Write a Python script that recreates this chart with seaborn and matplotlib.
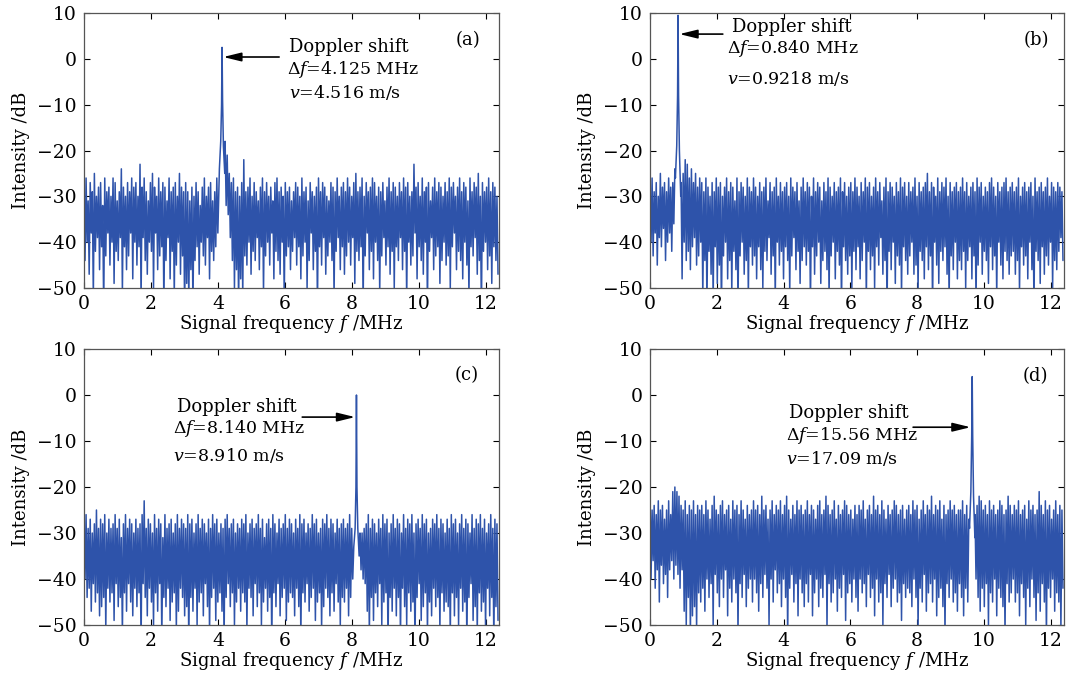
import numpy as np
import pandas as pd
import matplotlib
matplotlib.use("Agg")
import matplotlib.pyplot as plt
import seaborn as sns

# ---- measured beat spectra (dB) ----
# Each spectrum is stored as a per-bin envelope: the highest and the lowest
# level found in each of 200 equal frequency bins between 0 and F_MAX MHz.
F_MAX = 12.4

upper_a = [
    -28, -26, -31, -27, -29, -25, -30, -28, -27, -32, -26, -29, -28, -30, -26, -27, -31, -29, -24, -28, -30, -27, -29, -26, -28,
    -27, -30, -23, -28, -26, -29, -31, -27, -25, -28, -30, -26, -29, -27, -28, -31, -26, -29, -28, -27, -30, -25, -28, -29, -27,
    -29, -31, -28, -30, -27, -29, -32, -28, -26, -30, -28, -27, -31, -29, -26, -28, -22, -20, -18, -21, -25, -27, -26, -29, -28,
    -30, -27, -22, -29, -28, -26, -30, -27, -29, -31, -28, -26, -29, -27, -30, -28, -31, -27, -26, -29, -28, -30, -27, -29, -28,
    -31, -29, -27, -28, -30, -26, -29, -28, -31, -27, -29, -30, -28, -26, -29, -27, -28, -30, -31, -27, -28, -29, -26, -30, -28,
    -27, -29, -26, -28, -30, -27, -25, -29, -28, -26, -30, -27, -29, -28, -26, -27, -30, -28, -29, -27, -31, -28, -26, -29, -27,
    -28, -30, -27, -29, -26, -28, -27, -30, -29, -23, -28, -27, -30, -26, -29, -28, -27, -31, -28, -26, -29, -27, -28, -30, -27,
    -29, -26, -28, -27, -30, -28, -26, -29, -27, -28, -31, -26, -29, -27, -28, -25, -30, -27, -29, -28, -26, -29, -27, -28, -30,
]
lower_a = [
    -44, -40, -47, -38, -52, -42, -39, -46, -41, -55, -43, -38, -45, -40, -49, -42, -44, -39, -51, -41, -46, -43, -38, -48, -40,
    -45, -41, -53, -39, -44, -47, -40, -42, -50, -38, -46, -43, -41, -55, -44, -39, -48, -42, -52, -45, -40, -47, -43, -56, -49,
    -53, -46, -55, -44, -41, -47, -40, -43, -45, -39, -48, -42, -44, -41, -38, -35, -33, -30, -32, -34, -39, -44, -50, -46, -54,
    -48, -52, -43, -45, -40, -47, -42, -44, -39, -46, -41, -51, -43, -40, -45, -38, -48, -42, -44, -47, -40, -53, -43, -41, -46,
    -42, -39, -45, -41, -48, -43, -40, -50, -44, -38, -46, -42, -55, -41, -45, -39, -47, -43, -40, -44, -52, -42, -39, -46, -41,
    -47, -43, -40, -45, -39, -49, -42, -44, -41, -54, -43, -38, -46, -42, -48, -40, -44, -51, -43, -39, -45, -41, -47, -42, -50,
    -41, -44, -39, -46, -42, -53, -40, -45, -43, -38, -48, -41, -44, -47, -40, -55, -42, -39, -46, -43, -41, -49, -44, -40, -45,
    -43, -50, -41, -38, -46, -42, -44, -48, -40, -45, -52, -41, -43, -39, -47, -44, -56, -42, -40, -46, -43, -49, -41, -44, -47,
]

upper_b = [
    -28, -26, -29, -27, -30, -25, -28, -27, -29, -26, -28, -27, -24, -20, -24, -27, -25, -22, -23, -26, -24, -27, -25, -28, -26,
    -27, -29, -26, -28, -30, -27, -29, -26, -28, -27, -30, -28, -26, -29, -27, -28, -31, -26, -29, -27, -28, -30, -26, -28, -29,
    -26, -28, -30, -27, -29, -28, -26, -31, -27, -29, -28, -26, -30, -27, -29, -28, -27, -30, -26, -28, -29, -27, -31, -28, -26,
    -29, -27, -28, -30, -26, -29, -27, -28, -31, -27, -29, -26, -28, -30, -27, -29, -28, -26, -29, -27, -30, -28, -27, -29, -26,
    -28, -30, -27, -29, -26, -28, -27, -30, -28, -26, -29, -27, -31, -28, -26, -29, -27, -28, -30, -27, -29, -26, -28, -27, -30,
    -27, -29, -28, -26, -30, -27, -29, -28, -27, -25, -29, -27, -28, -30, -26, -29, -27, -28, -26, -30, -27, -29, -28, -27, -29,
    -28, -26, -29, -27, -30, -28, -27, -29, -26, -28, -27, -30, -28, -29, -27, -26, -28, -30, -27, -29, -28, -27, -26, -29, -28,
    -27, -29, -28, -26, -30, -28, -27, -29, -28, -27, -30, -26, -29, -28, -27, -29, -28, -26, -30, -27, -28, -29, -27, -28, -29,
]
lower_b = [
    -40, -43, -38, -45, -39, -41, -37, -44, -40, -38, -42, -36, -34, -30, -36, -48, -40, -44, -42, -46, -41, -39, -45, -43, -40,
    -52, -44, -55, -42, -47, -53, -41, -49, -45, -56, -43, -40, -48, -44, -51, -42, -46, -55, -43, -40, -47, -44, -52, -41, -45,
    -43, -48, -41, -46, -50, -42, -44, -39, -47, -43, -53, -40, -45, -42, -48, -41, -44, -51, -43, -39, -46, -42, -49, -44, -41,
    -45, -42, -54, -41, -47, -43, -40, -49, -44, -42, -46, -52, -43, -40, -48, -42, -45, -55, -41, -44, -47, -43, -50, -42, -46,
    -41, -48, -44, -40, -53, -42, -46, -43, -50, -41, -45, -39, -47, -44, -56, -42, -46, -40, -49, -43, -45, -52, -41, -44, -47,
    -43, -40, -47, -45, -51, -42, -44, -48, -41, -46, -43, -55, -40, -45, -49, -42, -44, -41, -47, -53, -43, -46, -40, -48, -44,
    -46, -42, -50, -44, -41, -48, -43, -54, -45, -40, -47, -42, -44, -49, -41, -46, -43, -52, -40, -45, -48, -42, -44, -47, -43,
    -42, -47, -44, -51, -41, -45, -43, -48, -40, -46, -55, -42, -44, -49, -41, -47, -43, -45, -40, -50, -44, -46, -42, -39, -44,
]

upper_c = [
    -28, -26, -29, -27, -30, -28, -25, -29, -27, -28, -26, -30, -27, -29, -28, -26, -29, -27, -31, -28, -26, -29, -27, -28, -30,
    -27, -29, -28, -26, -23, -29, -27, -28, -30, -26, -29, -27, -28, -31, -26, -29, -28, -27, -30, -28, -26, -29, -27, -28, -29,
    -26, -28, -27, -30, -28, -26, -29, -27, -28, -30, -27, -29, -26, -28, -27, -30, -28, -29, -27, -26, -29, -28, -27, -30, -28,
    -29, -27, -28, -26, -30, -28, -27, -29, -28, -26, -29, -27, -31, -28, -27, -29, -26, -28, -30, -27, -29, -28, -26, -29, -27,
    -28, -30, -27, -29, -26, -28, -27, -30, -28, -29, -26, -28, -27, -30, -29, -27, -28, -26, -29, -27, -28, -30, -27, -29, -28,
    -27, -29, -28, -26, -29, -30, -30, -31, -30, -30, -29, -28, -26, -29, -27, -28, -30, -27, -29, -26, -28, -27, -30, -28, -26,
    -29, -27, -28, -30, -26, -29, -27, -28, -26, -30, -28, -27, -29, -26, -28, -27, -30, -29, -27, -28, -26, -29, -27, -28, -30,
    -27, -29, -26, -28, -27, -30, -28, -26, -29, -27, -28, -30, -26, -29, -27, -28, -26, -29, -27, -30, -28, -26, -29, -27, -28,
]
lower_c = [
    -40, -44, -42, -47, -41, -45, -43, -48, -46, -44, -51, -42, -45, -43, -49, -41, -46, -44, -52, -43, -47, -41, -45, -48, -42,
    -46, -43, -55, -41, -44, -48, -42, -45, -50, -43, -47, -41, -53, -44, -46, -42, -49, -45, -43, -51, -47, -42, -44, -48, -46,
    -55, -44, -47, -42, -50, -45, -43, -48, -41, -46, -52, -44, -42, -49, -45, -43, -47, -54, -44, -41, -46, -43, -50, -45, -42,
    -47, -43, -45, -51, -42, -44, -48, -41, -46, -43, -50, -45, -42, -47, -44, -55, -43, -46, -41, -48, -44, -42, -49, -45, -43,
    -44, -48, -42, -46, -53, -43, -45, -41, -47, -44, -42, -49, -45, -43, -51, -46, -42, -44, -48, -43, -47, -41, -45, -50, -44,
    -45, -42, -48, -44, -40, -38, -39, -36, -38, -40, -41, -47, -52, -44, -49, -43, -46, -41, -50, -45, -43, -55, -44, -47, -42,
    -48, -44, -53, -42, -46, -50, -43, -47, -45, -55, -44, -41, -49, -46, -43, -52, -45, -48, -42, -46, -44, -51, -43, -47, -45,
    -46, -53, -43, -48, -44, -50, -42, -47, -45, -55, -44, -41, -49, -46, -52, -43, -47, -45, -51, -42, -48, -44, -54, -46, -49,
]

upper_d = [
    -21, -25, -24, -26, -23, -25, -24, -27, -25, -23, -26, -21, -20, -21, -22, -24, -25, -23, -26, -24, -25, -23, -26, -24, -25,
    -24, -26, -23, -25, -27, -24, -22, -25, -26, -24, -23, -26, -25, -24, -27, -23, -25, -24, -26, -23, -25, -27, -24, -26, -25,
    -23, -25, -24, -26, -22, -25, -24, -27, -25, -23, -26, -24, -25, -23, -26, -24, -22, -25, -27, -24, -26, -23, -25, -24, -26,
    -25, -23, -26, -24, -25, -27, -24, -23, -26, -25, -22, -24, -26, -25, -23, -27, -24, -26, -25, -23, -24, -26, -25, -27, -24,
    -26, -24, -25, -23, -27, -25, -24, -26, -22, -25, -24, -26, -23, -25, -27, -24, -26, -25, -23, -24, -26, -25, -24, -27, -25,
    -24, -26, -23, -25, -24, -27, -25, -23, -26, -24, -25, -22, -26, -24, -25, -23, -27, -24, -26, -25, -23, -25, -24, -26, -25,
    -25, -23, -26, -24, -27, -26, -27, -26, -24, -22, -23, -25, -24, -26, -23, -25, -24, -26, -25, -23, -24, -26, -25, -22, -24,
    -26, -24, -25, -23, -26, -25, -24, -27, -23, -25, -24, -26, -25, -21, -24, -26, -23, -25, -24, -27, -25, -23, -26, -24, -25,
]
lower_d = [
    -40, -36, -42, -38, -45, -37, -41, -39, -44, -38, -36, -40, -37, -39, -42, -38, -47, -50, -44, -52, -48, -46, -51, -43, -45,
    -42, -47, -40, -44, -41, -50, -39, -43, -46, -40, -44, -38, -48, -42, -45, -40, -43, -52, -41, -44, -39, -46, -42, -40, -45,
    -40, -43, -47, -41, -44, -39, -42, -50, -40, -45, -38, -43, -41, -46, -40, -44, -53, -42, -39, -45, -41, -48, -40, -43, -46,
    -41, -45, -39, -48, -43, -40, -46, -42, -44, -39, -51, -41, -45, -43, -40, -47, -42, -44, -39, -49, -43, -41, -45, -40, -44,
    -47, -40, -43, -41, -46, -39, -44, -42, -48, -40, -45, -43, -50, -41, -44, -39, -46, -42, -40, -45, -43, -49, -41, -44, -42,
    -43, -46, -40, -44, -51, -42, -45, -39, -47, -43, -41, -45, -40, -48, -44, -42, -46, -52, -41, -44, -40, -45, -43, -47, -41,
    -44, -48, -42, -45, -35, -34, -36, -40, -44, -47, -42, -46, -41, -50, -43, -45, -40, -48, -42, -44, -46, -52, -41, -45, -43,
    -40, -45, -43, -48, -41, -44, -50, -42, -46, -40, -44, -49, -43, -47, -41, -45, -53, -42, -44, -40, -47, -43, -45, -51, -42,
]

# Doppler line of each spectrum: position on the frequency axis (MHz) and level (dB)
peak_freq = [4.125, 0.84, 8.14, 9.65]
peak_level = [2.5, 9.5, 0.0, 4.0]
# samples across each line (offset in MHz from the line centre, level in dB)
line_offsets = [-0.08, -0.04, -0.015, 0.0, 0.015, 0.04, 0.08]
line_shape_a = [-24, -18, -10, peak_level[0], -9, -19, -25]
line_shape_b = [-26, -19, -8, peak_level[1], -8, -20, -30]
line_shape_c = [-33, -29, -20, peak_level[2], -20, -29, -35]
line_shape_d = [-29, -21, -9, peak_level[3], -9, -22, -31]

# annotation text
shift_label = ["4.125", "0.840", "8.140", "15.56"]
speed_label = ["4.516", "0.9218", "8.910", "17.09"]
panel_tags = ["(a)", "(b)", "(c)", "(d)"]

x_ticks = [0, 2, 4, 6, 8, 10, 12]
y_ticks = [10, 0, -10, -20, -30, -40, -50]

LINE_COLOR = "#2E53AA"

sns.set_theme(style="ticks")
plt.rcParams["font.family"] = ["DejaVu Serif"]
plt.rcParams["mathtext.fontset"] = "dejavuserif"
plt.rcParams["axes.unicode_minus"] = True
plt.rcParams["text.color"] = "black"
plt.rcParams["axes.labelcolor"] = "black"

fig = plt.figure(figsize=(10.70, 6.81), dpi=100)
fig.patch.set_facecolor("white")

boxes = [
    [0.0785, 0.5771, 0.3879, 0.4038],
    [0.6075, 0.5771, 0.3869, 0.4038],
    [0.0785, 0.0822, 0.3879, 0.4053],
    [0.6075, 0.0822, 0.3869, 0.4053],
]

uppers = [upper_a, upper_b, upper_c, upper_d]
lowers = [lower_a, lower_b, lower_c, lower_d]
shapes = [line_shape_a, line_shape_b, line_shape_c, line_shape_d]

# text placement per panel, data units (MHz, dB)
text_pos = [
    (6.13, 2.6, 6.07, -2.4, 6.13, -7.3),
    (2.45, 6.9, 2.30, 2.3, 2.30, -4.3),
    (2.77, -2.6, 2.65, -7.3, 2.65, -13.1),
    (4.15, -3.9, 4.06, -8.8, 4.06, -13.9),
]
arrows = [
    (5.83, 0.4, 4.16, 0.4),
    (2.18, 5.4, 0.88, 5.4),
    (6.52, -4.8, 8.10, -4.8),
    (7.88, -7.0, 9.60, -7.0),
]
tag_pos = [(11.46, 4.1), (11.58, 4.1), (11.43, 4.3), (11.55, 4.1)]

FS = 12.5

for i in range(4):
    ax = fig.add_axes(boxes[i])
    up = np.asarray(uppers[i], dtype=float)
    lo = np.asarray(lowers[i], dtype=float)
    w = F_MAX / len(up)
    f_up = np.arange(len(up)) * w
    f_lo = f_up + 0.5 * w
    f_line = peak_freq[i] + np.asarray(line_offsets)

    freq = np.concatenate([f_up, f_lo])
    level = np.concatenate([up, lo])
    keep = (freq < f_line.min()) | (freq > f_line.max())
    df = pd.DataFrame({
        "freq": np.concatenate([freq[keep], f_line]),
        "level": np.concatenate([level[keep], np.asarray(shapes[i], dtype=float)]),
    }).sort_values("freq", kind="mergesort")

    sns.lineplot(data=df, x="freq", y="level", ax=ax, color=LINE_COLOR,
                 linewidth=1.1, estimator=None, sort=False)

    ax.set_xlim(0, F_MAX)
    ax.set_ylim(-50, 10)
    ax.set_xticks(x_ticks)
    ax.set_yticks(y_ticks)
    ax.tick_params(direction="in", top=True, right=True, length=4,
                   width=0.8, labelsize=13.5, colors="black", pad=5)
    for sp in ax.spines.values():
        sp.set_linewidth(0.9)
        sp.set_color("#555555")
    ax.set_xlabel("Signal frequency $f$ /MHz", fontsize=13, labelpad=0)
    ax.set_ylabel("Intensity /dB", fontsize=13, labelpad=5)

    x1, y1, x2, y2, x3, y3 = text_pos[i]
    ax.text(x1, y1, "Doppler shift", fontsize=FS + 0.5, va="center", ha="left")
    ax.text(x2, y2, r"$\Delta f$=" + shift_label[i] + " MHz", fontsize=FS,
            va="center", ha="left")
    ax.text(x3, y3, r"$v$=" + speed_label[i] + " m/s", fontsize=FS,
            va="center", ha="left")

    tx, ty, hx, hy = arrows[i]
    ax.annotate("", xy=(hx, hy), xytext=(tx, ty),
                arrowprops=dict(arrowstyle="-|>,head_width=0.22,head_length=0.9",
                                color="black", lw=1.2, shrinkA=0, shrinkB=0))

    gx, gy = tag_pos[i]
    ax.text(gx, gy, panel_tags[i], fontsize=13, ha="center", va="center")

fig.savefig("out.png", dpi=100, facecolor="white")
